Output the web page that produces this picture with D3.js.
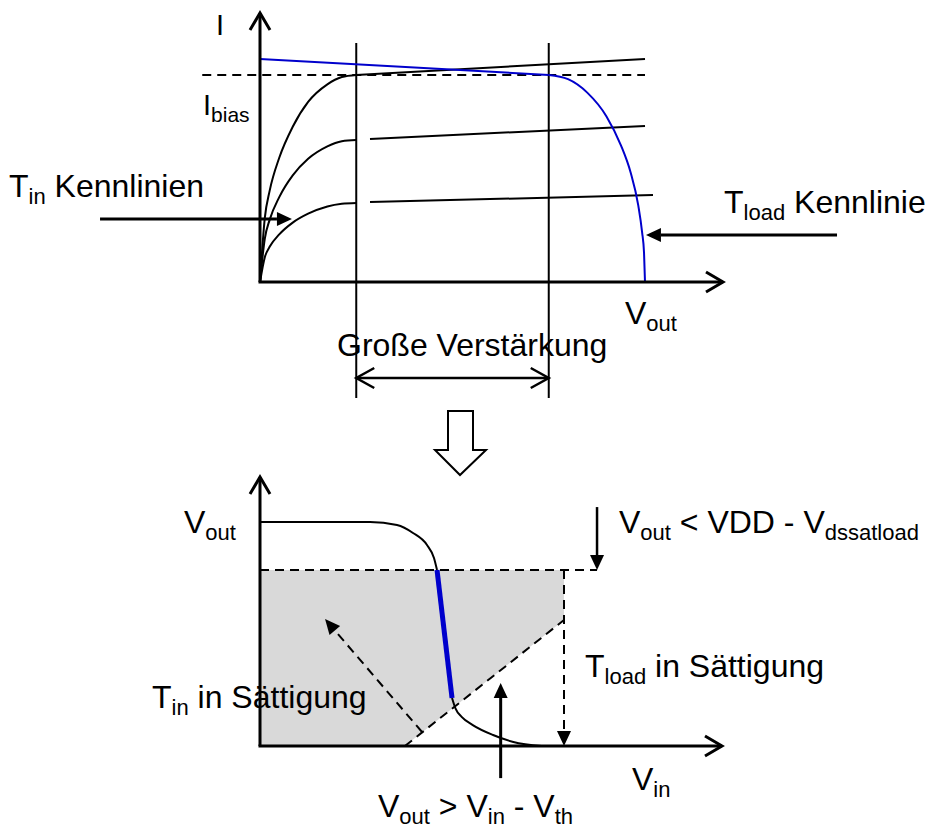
<!DOCTYPE html>
<html>
<head>
<meta charset="utf-8">
<script src="https://cdn.jsdelivr.net/npm/d3@7"></script>
<style>
  html, body { margin: 0; padding: 0; background: #fff; }
  svg { display: block; font-family: "Liberation Sans", Arial, sans-serif; }
  text { white-space: pre; }
</style>
</head>
<body>
<svg id="chart"></svg>
<script>
// ---- top plot: I over Vout (Vout units: Vdsat_in = 1, VDD - Vdsat_load = 3, VDD = 4; I in units of Ibias)
const tinKnee = [
    [[0, 0], [0.05, 0.31], [0.1, 0.44], [0.2, 0.6], [0.34, 0.75], [0.5, 0.87], [0.7, 0.955], [0.85, 0.99], [1, 1]],
    [[0, 0], [0.05, 0.21], [0.1, 0.3], [0.2, 0.41], [0.34, 0.515], [0.5, 0.595], [0.7, 0.655], [0.85, 0.68], [1, 0.686]],
    [[0, 0], [0.05, 0.12], [0.1, 0.17], [0.2, 0.23], [0.34, 0.287], [0.5, 0.33], [0.7, 0.365], [0.85, 0.378], [1, 0.382]]
];
const tinSat = [
    [[1, 1], [4, 1.077]],
    [[1.143, 0.691], [4, 0.754]],
    [[1.143, 0.386], [4.083, 0.42]]
];
const tloadSat = [[0, 1.077], [3, 1.0]];
const tloadTriode = [[3, 1.0], [3.2, 0.98], [3.4, 0.915], [3.6, 0.8], [3.75, 0.66], [3.85, 0.53],
    [3.93, 0.37], [3.97, 0.24], [3.99, 0.14], [4, 0]];
const ibias = 1;
const gainEdges = [1, 3];          // Vout where the high-gain window starts / ends

// ---- bottom plot: Vout over Vin (VDD = 3)
const vtcUpper = [[0, 3], [1.086, 3], [1.352, 2.96], [1.51, 2.853], [1.648, 2.692], [1.717, 2.518], [1.747, 2.357]];
const vtcGain = [[1.747, 2.357], [1.895, 0.643]];
const vtcLower = [[1.895, 0.643], [1.93, 0.5], [1.99, 0.39], [2.1, 0.28], [2.3, 0.147], [2.5, 0.054], [2.78, 0]];
const voutLoadSat = 2.357;         // VDD - Vdssatload
const vinThreshold = 1.43;         // where Vout = Vin - Vth meets the axis
const vinLoadEdge = 3;
const satRegion = [[0, 2.357], [3, 2.357], [3, 1.6875], [1.43, 0], [0, 0]];

(function () {
    const W = 927, H = 828;
    const svg = d3.select('#chart').attr('width', W).attr('height', H);
    svg.append('rect').attr('width', W).attr('height', H).attr('fill', '#fff');

    function arrow(g, p1, p2, o) {
        o = Object.assign({ width: 2.5, head: 'filled', len: 15, hw: 7, dash: null, color: '#000', both: false }, o || {});
        const dx = p2[0] - p1[0], dy = p2[1] - p1[1];
        const L = Math.hypot(dx, dy), ux = dx / L, uy = dy / L;
        const filled = o.head === 'filled';
        const a = o.both && filled ? [p1[0] + ux * o.len, p1[1] + uy * o.len] : p1;
        const b = filled ? [p2[0] - ux * o.len, p2[1] - uy * o.len] : p2;
        g.append('line')
            .attr('x1', a[0]).attr('y1', a[1]).attr('x2', b[0]).attr('y2', b[1])
            .attr('stroke', o.color).attr('stroke-width', o.width)
            .attr('stroke-dasharray', o.dash);
        const heads = o.both ? [[p2, ux, uy], [p1, -ux, -uy]] : [[p2, ux, uy]];
        heads.forEach(([tip, vx, vy]) => {
            const bx = tip[0] - vx * o.len, by = tip[1] - vy * o.len;
            const pts = [[bx - vy * o.hw, by + vx * o.hw], tip, [bx + vy * o.hw, by - vx * o.hw]];
            if (filled) {
                g.append('polygon').attr('points', pts.join(' ')).attr('fill', o.color);
            } else {
                g.append('polyline').attr('points', pts.join(' '))
                    .attr('fill', 'none').attr('stroke', o.color).attr('stroke-width', o.width);
            }
        });
    }

    // parts starting with "_" are subscripts
    function label(g, x, y, parts, o) {
        o = Object.assign({ size: 32, sub: 22, shift: 7, anchor: 'start' }, o || {});
        const t = g.append('text').attr('x', x).attr('y', y)
            .attr('font-size', o.size).attr('text-anchor', o.anchor).attr('fill', '#000');
        let low = false;
        parts.forEach(p => {
            const isSub = p[0] === '_';
            const s = t.append('tspan').text(isSub ? p.slice(1) : p);
            if (isSub) {
                s.attr('font-size', o.sub);
                if (!low) s.attr('dy', o.shift);
                low = true;
            } else if (low) {
                s.attr('dy', -o.shift);
                low = false;
            }
        });
    }

    // ================= top plot =================
    const xT = d3.scaleLinear().domain([0, 4]).range([260, 645]);
    const yT = d3.scaleLinear().domain([0, 1]).range([282, 75]);
    const lineT = d3.line().x(d => xT(d[0])).y(d => yT(d[1]));
    const topG = svg.append('g');

    // guides of the high gain window
    gainEdges.forEach(v => {
        topG.append('line')
            .attr('x1', xT(v)).attr('x2', xT(v)).attr('y1', yT(1.155)).attr('y2', yT(-0.56))
            .attr('stroke', '#000').attr('stroke-width', 2);
    });

    topG.append('line')
        .attr('x1', xT(-0.6)).attr('x2', xT(4)).attr('y1', yT(ibias)).attr('y2', yT(ibias))
        .attr('stroke', '#000').attr('stroke-width', 2).attr('stroke-dasharray', '9,6');

    tinKnee.forEach(c => {
        topG.append('path').attr('d', lineT.curve(d3.curveMonotoneX)(c))
            .attr('fill', 'none').attr('stroke', '#000').attr('stroke-width', 2);
    });
    tinSat.forEach(c => {
        topG.append('path').attr('d', lineT.curve(d3.curveLinear)(c))
            .attr('fill', 'none').attr('stroke', '#000').attr('stroke-width', 2);
    });
    topG.append('path').attr('d', lineT.curve(d3.curveLinear)(tloadSat))
        .attr('fill', 'none').attr('stroke', '#0000cc').attr('stroke-width', 2);
    topG.append('path').attr('d', lineT.curve(d3.curveMonotoneX)(tloadTriode))
        .attr('fill', 'none').attr('stroke', '#0000cc').attr('stroke-width', 2);

    // axes
    arrow(topG, [xT(0), yT(0)], [xT(0), 13], { head: 'open', len: 17, hw: 10, width: 3 });
    arrow(topG, [xT(0) - 1.5, yT(0)], [723, yT(0)], { head: 'open', len: 17, hw: 10, width: 3 });

    arrow(topG, [xT(-1.662), yT(0.304)], [xT(0.332), yT(0.304)], { width: 3 });
    arrow(topG, [xT(5.995), yT(0.227)], [xT(4.01), yT(0.227)], { width: 3 });
    arrow(topG, [xT(gainEdges[0]), 378], [xT(gainEdges[1]), 378], { head: 'open', len: 18, hw: 10, width: 2.5, both: true });

    label(topG, 216, 35, ['I'], { size: 29 });
    label(topG, 203, 115, ['I', '_bias'], { size: 29, sub: 21 });
    label(topG, 204, 197, ['T', '_in', ' Kennlinien'], { anchor: 'end' });
    label(topG, 724, 213, ['T', '_load', ' Kennlinie']);
    label(topG, 625, 324, ['V', '_out']);
    label(topG, 337, 356, ['Große Verstärkung']);

    // hollow arrow between the plots
    svg.append('polygon')
        .attr('points', [[448, 411], [473, 411], [473, 450], [486, 450], [460, 475], [435, 450], [448, 450]].join(' '))
        .attr('fill', '#fff').attr('stroke', '#000').attr('stroke-width', 2);

    // ================= bottom plot =================
    const xB = d3.scaleLinear().domain([0, 3]).range([260, 564]);
    const yB = d3.scaleLinear().domain([0, 3]).range([746, 522]);
    const lineB = d3.line().x(d => xB(d[0])).y(d => yB(d[1]));
    const botG = svg.append('g');

    botG.append('path').attr('d', lineB.curve(d3.curveLinear)(satRegion) + 'Z').attr('fill', '#d9d9d9');

    botG.append('line')
        .attr('x1', xB(0)).attr('x2', xB(3.326)).attr('y1', yB(voutLoadSat)).attr('y2', yB(voutLoadSat))
        .attr('stroke', '#000').attr('stroke-width', 2).attr('stroke-dasharray', '9,6');
    botG.append('line')
        .attr('x1', xB(vinThreshold)).attr('y1', yB(0)).attr('x2', xB(vinLoadEdge)).attr('y2', yB(1.6875))
        .attr('stroke', '#000').attr('stroke-width', 2).attr('stroke-dasharray', '9,6');
    arrow(botG, [xB(vinLoadEdge), yB(voutLoadSat)], [xB(vinLoadEdge), yB(0)], { width: 2, dash: '9,6' });
    arrow(botG, [xB(1.599), yB(0.1875)], [xB(0.642), yB(1.70)], { width: 2, dash: '9,6' });

    // axes
    arrow(botG, [xB(0), yB(0)], [xB(0), 477], { head: 'open', len: 17, hw: 10, width: 3 });
    arrow(botG, [xB(0) - 1.5, yB(0)], [722, yB(0)], { head: 'open', len: 17, hw: 10, width: 3 });

    botG.append('path').attr('d', lineB.curve(d3.curveMonotoneX)(vtcUpper))
        .attr('fill', 'none').attr('stroke', '#000').attr('stroke-width', 2);
    botG.append('path').attr('d', lineB.curve(d3.curveMonotoneX)(vtcLower))
        .attr('fill', 'none').attr('stroke', '#000').attr('stroke-width', 2);
    botG.append('path').attr('d', lineB.curve(d3.curveLinear)(vtcGain))
        .attr('fill', 'none').attr('stroke', '#0000cc').attr('stroke-width', 5);

    arrow(botG, [xB(3.326), yB(3.2)], [xB(3.326), yB(voutLoadSat)], { width: 2.5 });
    arrow(botG, [xB(2.375), yB(-0.43)], [xB(2.375), yB(0.844)], { width: 3 });

    label(botG, 184, 533, ['V', '_out']);
    label(botG, 619, 533, ['V', '_out', ' < VDD - V', '_dssatload']);
    label(botG, 585, 677, ['T', '_load', ' in Sättigung']);
    label(botG, 152, 708, ['T', '_in', ' in Sättigung']);
    label(botG, 632, 790, ['V', '_in']);
    label(botG, 378, 817, ['V', '_out', ' > V', '_in', ' - V', '_th']);
})();
</script>
</body>
</html>
